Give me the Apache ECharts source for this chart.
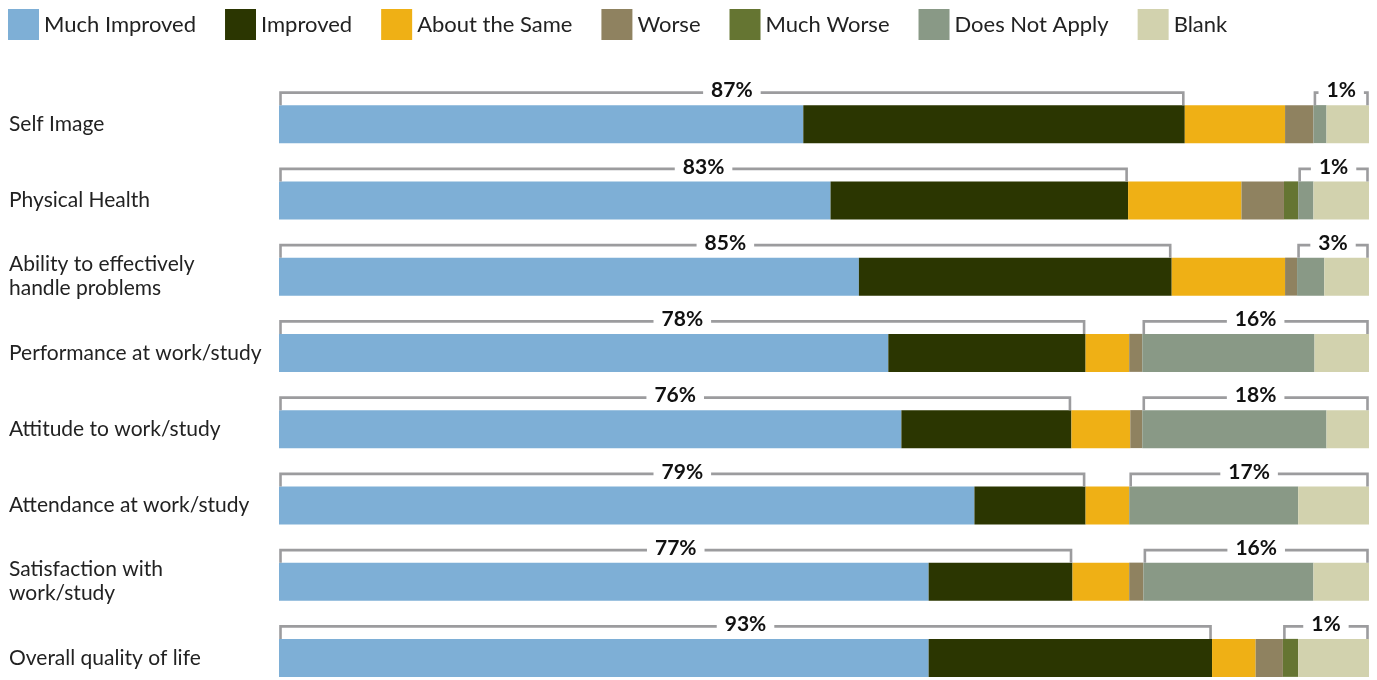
<!DOCTYPE html>
<html>
<head>
<meta charset="utf-8">
<style>
  html, body { margin: 0; padding: 0; background: #fff; overflow: hidden; }
  #chart { width: 1377px; height: 700px; }
</style>
<script src="https://cdn.jsdelivr.net/npm/echarts@6/dist/echarts.min.js"></script>
</head>
<body>
<div id="chart"></div>
<script>
// 数据（按图读取，单位 %，每行合计 100）
const categories = [
  "Self Image",
  "Physical Health",
  "Ability to effectively\nhandle problems",
  "Performance at work/study",
  "Attitude to work/study",
  "Attendance at work/study",
  "Satisfaction with\nwork/study",
  "Overall quality of life",
];
const seriesNames = ["Much Improved", "Improved", "About the Same", "Worse", "Much Worse", "Does Not Apply", "Blank"];

const muchImproved = [48.1, 50.6, 53.2, 55.9, 57.1, 63.8, 59.6, 59.6];
const improved = [35.0, 27.3, 28.7, 18.1, 15.6, 10.2, 13.2, 26.0];
const aboutSame = [9.2, 10.4, 10.4, 4.0, 5.4, 4.0, 5.2, 4.0];
const worse = [2.6, 3.9, 1.1, 1.2, 1.1, 0, 1.3, 2.5];
const muchWorse = [0, 1.3, 0, 0, 0, 0, 0, 1.4];
const doesNotApply = [1.2, 1.4, 2.5, 15.8, 16.9, 15.5, 15.6, 0];
const blank = [3.9, 5.1, 4.1, 5.0, 3.9, 6.5, 5.1, 6.5];

// 括号标注
const improvedLabels = ["87%", "83%", "85%", "78%", "76%", "79%", "77%", "93%"];
const notApplyLabels = ["1%", "1%", "3%", "16%", "18%", "17%", "16%", "1%"];
const notApplyFrom = [5, 5, 5, 5, 5, 5, 5, 4]; // 右侧括号从第几个分段开始

const COLORS = ["#7eafd6", "#2b3601", "#efb015", "#8f8260", "#657532", "#899986", "#d2d2ae"];
const BRACKET = "#9c9c9e";
const FONT = "Lato, 'Open Sans', sans-serif";
const BAR_W = 38;

const allValues = [muchImproved, improved, aboutSame, worse, muchWorse, doesNotApply, blank];

// 括号数据：[x0, x1, 行号]
const bracketData = [];
const bracketText = [];
categories.forEach(function (c, i) {
  bracketData.push([0, muchImproved[i] + improved[i], i]);
  bracketText.push(improvedLabels[i]);
  let start = 0;
  for (let k = 0; k < notApplyFrom[i]; k++) start += allValues[k][i];
  bracketData.push([start, 100, i]);
  bracketText.push(notApplyLabels[i]);
});

const barSeries = seriesNames.map(function (name, k) {
  return {
    name: name,
    type: "bar",
    stack: "total",
    barWidth: BAR_W,
    itemStyle: { color: COLORS[k] },
    emphasis: { disabled: true },
    data: allValues[k],
  };
});

function renderBracket(params, api) {
  const x0 = api.coord([api.value(0), api.value(2)]);
  const x1 = api.coord([api.value(1), api.value(2)]);
  const top = x0[1] - BAR_W / 2;
  const ly = top - 12.5;
  const left = x0[0] + 1.5;
  const right = x1[0] - 1.5;
  return {
    type: "group",
    children: [
      {
        type: "polyline",
        shape: { points: [[left, top], [left, ly], [right, ly], [right, top]] },
        style: { stroke: BRACKET, lineWidth: 2.6, fill: null },
      },
      {
        type: "text",
        style: {
          text: bracketText[params.dataIndex],
          x: (left + right) / 2,
          y: ly - 2,
          align: "center",
          verticalAlign: "middle",
          font: "bold 21px " + FONT,
          fill: "#111",
          backgroundColor: "#fff",
          padding: [0, 8],
        },
      },
    ],
  };
}

const chart = echarts.init(document.getElementById("chart"));
chart.setOption({
  animation: false,
  textStyle: { fontFamily: FONT },
  legend: {
    data: seriesNames,
    left: 8,
    top: 9,
    padding: 0,
    itemWidth: 31,
    itemHeight: 31,
    itemGap: 29,
    icon: "rect",
    selectedMode: false,
    textStyle: { fontSize: 22, color: "#222", fontFamily: FONT },
  },
  grid: { left: 279, right: 8, top: 86, height: 610, containLabel: false },
  xAxis: { type: "value", min: 0, max: 100, show: false },
  yAxis: {
    type: "category",
    data: categories,
    inverse: true,
    axisLine: { show: false },
    axisTick: { show: false },
    splitLine: { show: false },
    axisLabel: {
      align: "left",
      margin: 270,
      fontSize: 21,
      lineHeight: 24,
      color: "#222",
      fontFamily: FONT,
    },
  },
  series: barSeries.concat([
    {
      type: "custom",
      name: "brackets",
      renderItem: renderBracket,
      encode: { x: [0, 1], y: 2 },
      data: bracketData,
      z: 5,
      silent: true,
    },
  ]),
});
</script>
</body>
</html>
